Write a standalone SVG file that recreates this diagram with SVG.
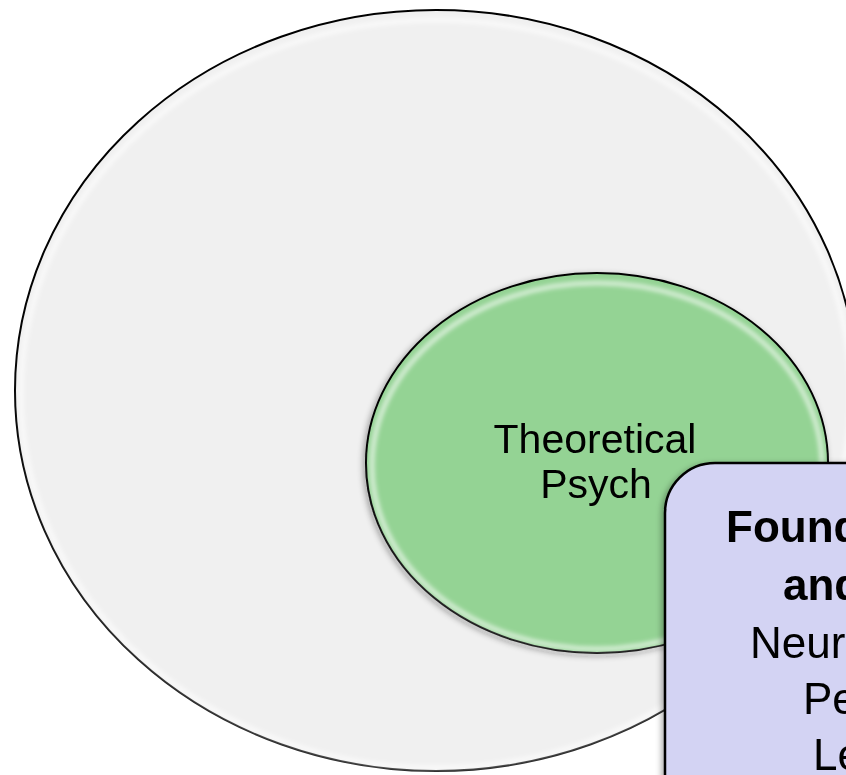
<svg xmlns="http://www.w3.org/2000/svg" width="846" height="775" viewBox="0 0 846 775">
  <defs>
    <filter id="shadow" x="-20%" y="-20%" width="140%" height="140%">
      <feGaussianBlur in="SourceAlpha" stdDeviation="3"/>
      <feOffset dx="-2" dy="2" result="b"/>
      <feComponentTransfer><feFuncA type="linear" slope="0.35"/></feComponentTransfer>
      <feMerge><feMergeNode/><feMergeNode in="SourceGraphic"/></feMerge>
    </filter>
    <filter id="soft" x="-10%" y="-10%" width="120%" height="120%">
      <feGaussianBlur stdDeviation="2"/>
    </filter>
  </defs>
  <style>
    .outline { stroke: #000; stroke-width: 2; }
    .hl { fill: none; stroke: #ffffff; stroke-opacity: 0.6; stroke-width: 5; }
    .lbl { font-family: "Liberation Sans", Arial, sans-serif; fill: #000; }
    .big { font-size: 41px; }
    .box { font-size: 44px; }
    .bold { font-weight: bold; }
  </style>
  <rect width="846" height="775" fill="#ffffff"/>
  <g id="outer-circle">
    <ellipse cx="436" cy="390.5" rx="421" ry="380.5" fill="#f0f0f0" class="outline"/>
    <ellipse cx="436" cy="394" rx="415" ry="374" class="hl" filter="url(#soft)"/>
  </g>
  <g id="theoretical-psych" filter="url(#shadow)">
    <ellipse cx="597" cy="463" rx="231" ry="190" fill="#94d394" class="outline"/>
    <ellipse cx="597" cy="466" rx="225" ry="183" class="hl" stroke-opacity="0.4" filter="url(#soft)"/>
    <text class="lbl big" x="595" y="453" text-anchor="middle">Theoretical</text>
    <text class="lbl big" x="596" y="498" text-anchor="middle">Psych</text>
  </g>
  <g id="foundations-box" filter="url(#shadow)">
    <rect x="665" y="463" width="500" height="400" rx="50" ry="50" fill="#d3d3f3" stroke="#000" stroke-width="2.5"/>
    <text class="lbl box bold" x="726" y="542">Found</text>
    <text class="lbl box bold" x="783" y="600">and</text>
    <text class="lbl box" x="750" y="658">Neur</text>
    <text class="lbl box" x="803" y="714">Pe</text>
    <text class="lbl box" x="813" y="770">Le</text>
  </g>
  <g id="connectors"/>
</svg>
